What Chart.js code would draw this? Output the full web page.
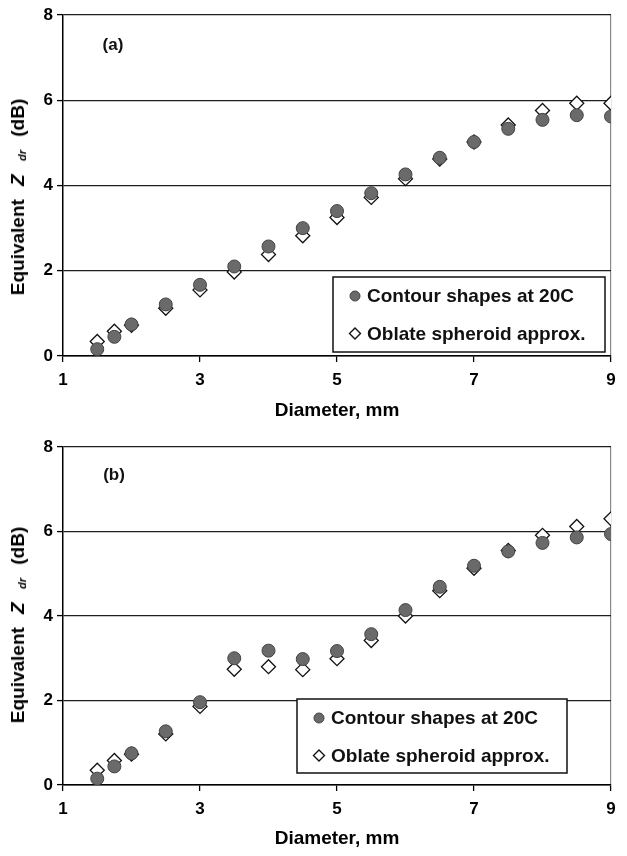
<!DOCTYPE html>
<html>
<head>
<meta charset="utf-8">
<script src="https://cdn.jsdelivr.net/npm/chart.js@4.4.1/dist/chart.umd.min.js"></script>
<style>
  body { margin: 0; background: #fff; }
  .panel { position: relative; width: 627px; height: 428px; }
  .ytitle {
    position: absolute; left: 18px; top: 197px;
    transform: translate(-50%, -50%) rotate(-90deg);
    white-space: nowrap; word-spacing: 8px;
    font: bold 19px "Liberation Sans", Arial, sans-serif; color: #000;
  }
  .ytitle i { font-style: italic; }
  .ytitle sub { font-size: 11px; font-style: italic; vertical-align: -2px; }
</style>
</head>
<body>
<div class="panel">
  <canvas id="chartA" width="627" height="428"></canvas>
  <div class="ytitle">Equivalent <i>Z</i> <sub>dr</sub> (dB)</div>
</div>
<div class="panel">
  <canvas id="chartB" width="627" height="428"></canvas>
  <div class="ytitle">Equivalent <i>Z</i> <sub>dr</sub> (dB)</div>
</div>
<script>
// drop diameters, mm
const diameters = [1.5, 1.75, 2, 2.5, 3, 3.5, 4, 4.5, 5, 5.5, 6, 6.5, 7, 7.5, 8, 8.5, 9];

// (a) equivalent Zdr, dB
const contourA = [0.16, 0.45, 0.74, 1.21, 1.67, 2.10, 2.57, 3.00, 3.40, 3.82, 4.26, 4.65, 5.02, 5.33, 5.54, 5.65, 5.62];
const oblateA  = [0.34, 0.58, 0.72, 1.12, 1.55, 1.97, 2.38, 2.82, 3.25, 3.72, 4.16, 4.62, 5.02, 5.42, 5.76, 5.93, 5.93];

// (b) equivalent Zdr, dB
const contourB = [0.15, 0.44, 0.75, 1.27, 1.96, 3.00, 3.18, 2.98, 3.17, 3.57, 4.14, 4.69, 5.19, 5.53, 5.73, 5.86, 5.94];
const oblateB  = [0.35, 0.58, 0.73, 1.21, 1.86, 2.74, 2.80, 2.73, 2.99, 3.42, 4.00, 4.60, 5.13, 5.55, 5.91, 6.12, 6.30];

const seriesNames = ['Contour shapes at 20C', 'Oblate spheroid approx.'];
const xTicks = [1, 3, 5, 7, 9];
const yTicks = [0, 2, 4, 6, 8];

const FONT = '"Liberation Sans", Arial, sans-serif';
const circleFill = '#6a6a6a';
const circleEdge = '#444';

function toPoints(values) {
  return values.map((v, i) => ({ x: diameters[i], y: v }));
}

function drawMarker(ctx, style, x, y) {
  ctx.beginPath();
  if (style === 'circle') {
    ctx.arc(x, y, 5, 0, Math.PI * 2);
    ctx.fillStyle = circleFill;
    ctx.strokeStyle = circleEdge;
    ctx.lineWidth = 1;
  } else {
    ctx.moveTo(x, y - 5.5);
    ctx.lineTo(x + 5.5, y);
    ctx.lineTo(x, y + 5.5);
    ctx.lineTo(x - 5.5, y);
    ctx.closePath();
    ctx.fillStyle = '#fff';
    ctx.strokeStyle = '#111';
    ctx.lineWidth = 1.4;
  }
  ctx.fill();
  ctx.stroke();
}

// boxed legend sitting inside the plot area
const boxLegend = {
  id: 'boxLegend',
  afterDraw(chart, args, opts) {
    const ctx = chart.ctx;
    const area = chart.chartArea;
    const x0 = area.left + opts.left;
    const y0 = area.top + opts.top;
    ctx.save();
    ctx.fillStyle = '#fff';
    ctx.fillRect(x0, y0, opts.width, opts.height);
    ctx.strokeStyle = '#111';
    ctx.lineWidth = 1.5;
    ctx.strokeRect(x0, y0, opts.width, opts.height);
    chart.data.datasets.forEach((ds, i) => {
      const cy = y0 + 19 + i * 37.5;
      drawMarker(ctx, ds.pointStyle, x0 + 22, cy);
      ctx.fillStyle = '#111';
      ctx.font = 'bold 19px ' + FONT;
      ctx.textBaseline = 'middle';
      ctx.textAlign = 'left';
      ctx.fillText(ds.label, x0 + 34, cy + 1);
    });
    ctx.restore();
  }
};

// panel letter, (a) / (b)
const panelTag = {
  id: 'panelTag',
  afterDraw(chart, args, opts) {
    const ctx = chart.ctx;
    const area = chart.chartArea;
    ctx.save();
    ctx.fillStyle = '#111';
    ctx.font = 'bold 17px ' + FONT;
    ctx.textAlign = 'center';
    ctx.textBaseline = 'middle';
    ctx.fillText(opts.text, area.left + opts.dx, area.top + opts.dy);
    ctx.restore();
  }
};

function makeChart(canvasId, contour, oblate, cfg) {
  const ctx = document.getElementById(canvasId).getContext('2d');
  return new Chart(ctx, {
    type: 'scatter',
    data: {
      datasets: [{
        label: seriesNames[0],
        data: toPoints(contour),
        pointStyle: 'circle',
        pointRadius: 6.5,
        backgroundColor: circleFill,
        borderColor: circleEdge,
        borderWidth: 1
      }, {
        label: seriesNames[1],
        data: toPoints(oblate),
        pointStyle: 'rectRot',
        pointRadius: 7,
        backgroundColor: '#fff',
        borderColor: '#111',
        borderWidth: 1.3
      }]
    },
    options: {
      responsive: false,
      animation: false,
      layout: { padding: { top: cfg.top, right: 16, left: 0, bottom: 0 } },
      plugins: {
        legend: { display: false },
        tooltip: { enabled: false },
        boxLegend: cfg.legend,
        panelTag: cfg.tag
      },
      scales: {
        x: {
          type: 'linear',
          min: 1,
          max: 9,
          afterBuildTicks: s => { s.ticks = xTicks.map(v => ({ value: v })); },
          afterFit: s => { s.height = cfg.xHeight; },
          border: { color: '#000', width: 1.5 },
          grid: {
            color: c => (c.tick && c.tick.value === 9) ? '#8a8a8a' : 'rgba(0,0,0,0)',
            lineWidth: 1.2,
            tickColor: '#000',
            tickLength: 6,
            tickWidth: 1.3
          },
          ticks: { color: '#000', padding: 8, font: { family: FONT, size: 17, weight: 'bold' } },
          title: {
            display: true,
            text: 'Diameter, mm',
            color: '#000',
            padding: { top: 4, bottom: 6 },
            font: { family: FONT, size: 19, weight: 'bold' }
          }
        },
        y: {
          min: 0,
          max: 8,
          afterBuildTicks: s => { s.ticks = yTicks.map(v => ({ value: v })); },
          afterFit: s => { s.width = 63; },
          border: { color: '#000', width: 1.5 },
          grid: {
            color: '#1e1e1e',
            lineWidth: 1.2,
            tickColor: '#000',
            tickLength: 6,
            tickWidth: 1.3
          },
          ticks: { color: '#000', padding: 4, font: { family: FONT, size: 17, weight: 'bold' } }
        }
      }
    },
    plugins: [boxLegend, panelTag]
  });
}

makeChart('chartA', contourA, oblateA, {
  top: 15,
  xHeight: 72,
  legend: { left: 270, top: 262, width: 272, height: 75 },
  tag: { text: '(a)', dx: 50, dy: 30 }
});

makeChart('chartB', contourB, oblateB, {
  top: 19,
  xHeight: 71,
  legend: { left: 234, top: 252, width: 270, height: 74 },
  tag: { text: '(b)', dx: 51, dy: 28 }
});
</script>
</body>
</html>
